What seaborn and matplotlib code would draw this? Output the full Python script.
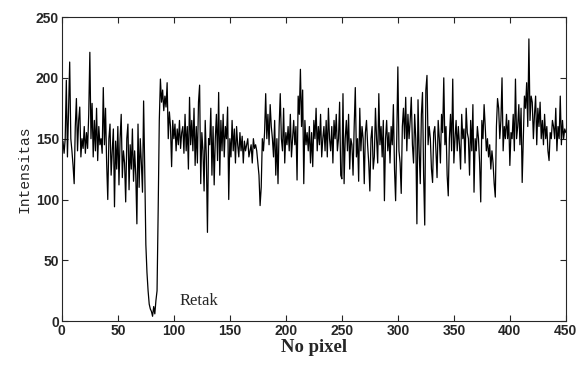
import numpy as np
import pandas as pd
import matplotlib
matplotlib.use("Agg")
import matplotlib.pyplot as plt
import seaborn as sns

# intensity profile along the pixel line (x = 0..450)
pixel = list(range(0, 451))
intensity = [
    140, 148, 138, 150, 198, 135, 176, 213, 150, 140,
    128, 113, 160, 183, 140, 165, 176, 135, 150, 142,
    160, 138, 155, 142, 170, 221, 150, 179, 135, 165,
    140, 175, 132, 160, 145, 150, 138, 192, 145, 175,
    130, 100, 150, 162, 120, 140, 158, 94, 148, 125,
    160, 112, 150, 170, 118, 140, 130, 98, 150, 162,
    108, 145, 125, 158, 115, 140, 120, 80, 162, 110,
    150, 130, 106, 181, 125, 63, 40, 25, 14, 10,
    8, 4, 12, 6, 17, 25, 91, 165, 199, 180,
    190, 173, 185, 176, 196, 150, 172, 160, 127, 165,
    150, 162, 140, 158, 145, 165, 142, 155, 160, 138,
    170, 140, 160, 125, 184, 145, 165, 140, 175, 128,
    160, 130, 180, 194, 113, 155, 140, 107, 165, 135,
    73, 150, 145, 175, 120, 160, 112, 150, 170, 132,
    188, 120, 165, 140, 170, 135, 160, 150, 176, 100,
    150, 135, 165, 140, 158, 130, 160, 145, 135, 155,
    140, 152, 130, 148, 140, 145, 150, 135, 140, 145,
    130, 150, 142, 145, 140, 130, 120, 95, 110, 150,
    140, 155, 187, 150, 170, 145, 178, 160, 150, 135,
    165, 120, 150, 113, 160, 187, 150, 140, 175, 130,
    155, 145, 160, 140, 170, 135, 150, 165, 145, 160,
    116, 185, 170, 207, 160, 190, 113, 165, 145, 155,
    140, 160, 130, 155, 127, 165, 150, 175, 140, 160,
    145, 170, 135, 150, 160, 140, 165, 135, 175, 150,
    140, 160, 130, 165, 150, 170, 140, 150, 180, 120,
    117, 187, 113, 150, 165, 140, 170, 125, 150, 145,
    120, 160, 192, 135, 150, 115, 175, 140, 160, 150,
    113, 155, 165, 145, 130, 107, 150, 160, 125, 135,
    175, 150, 130, 187, 145, 160, 135, 165, 99, 150,
    165, 140, 155, 130, 160, 145, 178, 125, 99, 150,
    209, 140, 130, 105, 160, 175, 150, 184, 140, 170,
    150, 165, 184, 145, 130, 170, 150, 80, 182, 140,
    113, 170, 188, 120, 79, 190, 202, 145, 160, 150,
    125, 114, 155, 160, 140, 118, 165, 150, 130, 170,
    155, 200, 145, 160, 120, 103, 150, 170, 140, 199,
    130, 150, 165, 140, 160, 145, 125, 170, 150, 158,
    130, 175, 155, 150, 120, 165, 140, 178, 106, 150,
    140, 160, 150, 130, 98, 165, 150, 178, 160, 140,
    150, 135, 145, 125, 140, 130, 113, 102, 160, 183,
    175, 150, 165, 200, 140, 160, 150, 170, 150, 165,
    128, 155, 150, 170, 140, 199, 150, 160, 178, 145,
    175, 114, 150, 185, 175, 196, 160, 232, 165, 185,
    180, 150, 170, 185, 145, 175, 160, 180, 150, 165,
    145, 170, 150, 160, 140, 132, 155, 150, 165, 160,
    150, 175, 140, 160, 150, 185, 145, 165, 150, 158,
    155,
]
x_ticks = [0, 50, 100, 150, 200, 250, 300, 350, 400, 450]
y_ticks = [0, 50, 100, 150, 200, 250]

df = pd.DataFrame({"pixel": pixel, "intensity": intensity})

sns.set_style("ticks")
plt.rcParams["font.family"] = ["Liberation Sans", "DejaVu Sans"]

fig = plt.figure(figsize=(5.78, 3.70), dpi=100)
ax = fig.add_axes([0.107, 0.132, 0.872, 0.822])
sns.lineplot(data=df, x="pixel", y="intensity", color="black", lw=0.9, ax=ax)

ax.set_xlim(0, 450)
ax.set_ylim(0, 250)
ax.set_xticks(x_ticks)
ax.set_yticks(y_ticks)
ax.tick_params(direction="in", top=True, right=True, length=4, width=0.8,
               labelsize=10, pad=2)
for lb in ax.get_xticklabels() + ax.get_yticklabels():
    lb.set_fontweight("bold")
for sp in ax.spines.values():
    sp.set_linewidth(0.8)

ax.set_xlabel("No pixel", family="Liberation Serif", fontweight="bold",
              fontsize=13.5, labelpad=1)
ax.set_ylabel("Intensitas", family="Liberation Mono", fontsize=10.5, labelpad=3)
ax.text(105, 13, "Retak", family="Liberation Serif", fontsize=12)

fig.savefig("out.png", dpi=100)
